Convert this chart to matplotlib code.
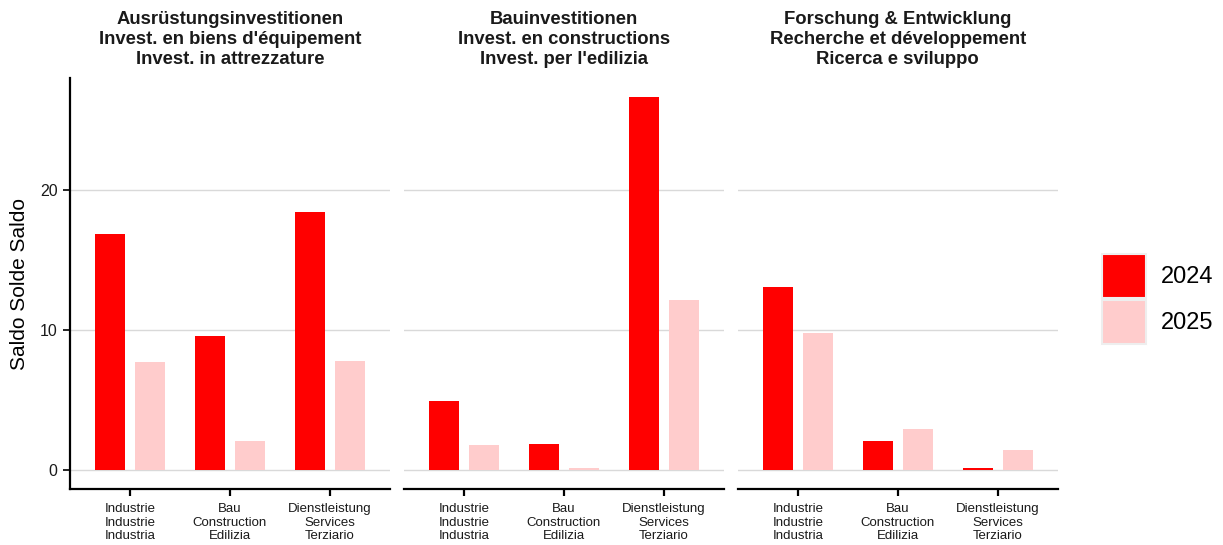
import matplotlib
matplotlib.use("Agg")
import matplotlib.pyplot as plt
import numpy as np
from matplotlib.patches import Patch

plt.rcParams["font.family"] = ["Liberation Sans", "DejaVu Sans"]

panel_titles = [
    "Ausrüstungsinvestitionen\nInvest. en biens d'équipement\nInvest. in attrezzature",
    "Bauinvestitionen\nInvest. en constructions\nInvest. per l'edilizia",
    "Forschung & Entwicklung\nRecherche et développement\nRicerca e sviluppo",
]
sectors = [
    "Industrie\nIndustrie\nIndustria",
    "Bau\nConstruction\nEdilizia",
    "Dienstleistung\nServices\nTerziario",
]
years = ["2024", "2025"]
colors = ["#FF0000", "#FFCCCC"]

# saldo per panel, per sector
values_2024 = [
    [16.84, 9.57, 18.41],
    [4.94, 1.87, 26.6],
    [13.1, 2.09, 0.16],
]
values_2025 = [
    [7.72, 2.09, 7.79],
    [1.80, 0.16, 12.14],
    [9.8, 2.94, 1.45],
]

fig = plt.figure(figsize=(12.23, 5.45), dpi=100)
W, H = 1223, 545
lefts = [70, 404, 738]
ax_w = 319.7
top_px, bot_px = 78, 489

x = np.arange(1, len(sectors) + 1)
bar_w = 0.3
offset = 0.2
axes = []
for i, left in enumerate(lefts):
    ax = fig.add_axes([left / W, 1 - bot_px / H, ax_w / W, (bot_px - top_px) / H])
    axes.append(ax)
    ax.bar(x - offset, values_2024[i], width=bar_w, color=colors[0], zorder=2)
    ax.bar(x + offset, values_2025[i], width=bar_w, color=colors[1], zorder=2)
    ax.set_xlim(0.4, 3.6)
    ax.set_ylim(-1.33, 27.96)
    ax.set_yticks([0, 10, 20])
    ax.yaxis.grid(True, color="#d9d9d9", linewidth=1.0, zorder=0)
    ax.set_axisbelow(True)
    ax.set_xticks(x)
    ax.set_xticklabels(sectors, fontsize=9.5, color="#1a1a1a", linespacing=1.2)
    ax.tick_params(axis="x", length=5, width=1.6, color="black", pad=5)
    for s in ["top", "right"]:
        ax.spines[s].set_visible(False)
    ax.spines["bottom"].set_linewidth(1.6)
    if i == 0:
        ax.spines["left"].set_linewidth(1.6)
        ax.tick_params(axis="y", length=5, width=1.2, labelsize=11.5, labelcolor="#1a1a1a", pad=4)
        ax.set_ylabel("Saldo Solde Saldo", fontsize=15, labelpad=8)
    else:
        ax.spines["left"].set_visible(False)
        ax.tick_params(axis="y", length=0, labelleft=False)
    ax.set_title(panel_titles[i], fontsize=13.3, fontweight="bold", color="#1a1a1a",
                 linespacing=1.25, pad=10)

handles = [Patch(facecolor=c, edgecolor="#eeeeee", linewidth=1.5) for c in colors]
fig.legend(handles, years, loc="center left", bbox_to_anchor=(1102 / W, 1 - 299 / H),
           frameon=False, fontsize=17, handlelength=1.85, handleheight=2.47,
           handletextpad=0.65, labelspacing=0.12, borderpad=0, borderaxespad=0)

fig.savefig("out.png", dpi=100)
